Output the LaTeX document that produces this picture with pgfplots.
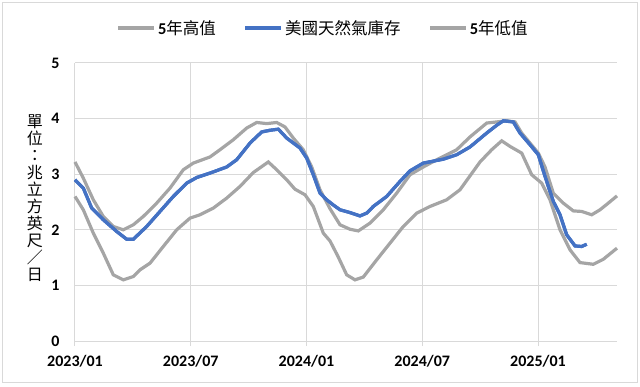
\documentclass[border=0pt]{standalone}
\usepackage{fontspec}
\setmainfont{Carlito}
\newfontfamily\cjk{Noto Sans CJK TC}
\usepackage{pgfplots}
\pgfplotsset{compat=1.18}
\definecolor{hi}{HTML}{A5A5A5}
\definecolor{bl}{HTML}{4472C4}
\definecolor{gr}{HTML}{D9D9D9}
\begin{document}
\begin{tikzpicture}
\begin{axis}[
 at={(0,0)}, anchor=south west,
 scale only axis, width=542pt, height=278pt,
 xmin=75, xmax=617, ymin=0, ymax=5,
 xtick={75,190.75,306.5,422.25,538},
 xticklabels={2023/01,2023/07,2024/01,2024/07,2025/01},
 ytick={0,1,2,3,4,5},
 yticklabels={0,1,2,3,4,5},
 grid=major, grid style={gr, line width=1pt},
 axis line style={draw=none},
 tick pos=left,
 major tick length=5pt,
 xtick style={gr, line width=1pt, yshift=-5pt},
 ytick style={draw=none},
 ticklabel style={font=\fontsize{16}{19}\selectfont\bfseries},
 yticklabel style={xshift=-12pt},
 xticklabel style={yshift=-11pt},
 clip=false,
 legend columns=3,
 legend style={draw=none, fill=none, at={(0.458,1.126)}, anchor=center,
   font=\fontsize{16.5}{19}\selectfont,
   /tikz/every even column/.append style={column sep=26pt}},
 legend image code/.code={\draw[#1] (0pt,0pt) -- (36pt,0pt);},
]
\addplot[hi, line width=3.2pt] coordinates {
(75,3.22) (83.3,2.93) (93.3,2.54) (103.3,2.24) (113.3,2.06) (123.3,2.00) (133.3,2.09)
(143.3,2.24) (156.7,2.48) (170,2.75) (183.3,3.08) (193.3,3.20) (210,3.31) (220,3.44)
(233.3,3.62) (246.7,3.83) (256.7,3.93) (266.7,3.91) (276.7,3.93) (285,3.85) (293.3,3.65)
(303.3,3.44) (311.7,3.13) (320,2.72) (330,2.38) (340,2.09) (350,2.01) (358.3,1.98)
(370,2.12) (383.3,2.36) (396.7,2.66) (410,2.99) (423.3,3.13) (436.7,3.26) (456.7,3.44)
(470,3.67) (486.7,3.92) (496.7,3.94) (506.7,3.96) (515,3.94) (521.7,3.74) (530,3.56)
(538.3,3.38) (545,3.13) (553.3,2.66) (563.3,2.48) (573.3,2.34) (581.7,2.33) (591.7,2.27)
(600,2.36) (608.3,2.48) (617,2.61)};
\addlegendentry{\textbf{5}\cjk 年高值}
\addplot[bl, line width=3.2pt] coordinates {
(75,2.90) (83.3,2.75) (91.7,2.39) (103.3,2.18) (116.7,1.97) (126.7,1.83) (133.3,1.83)
(146.7,2.06) (160,2.33) (173.3,2.60) (186.7,2.84) (196.7,2.94) (210,3.02) (226.7,3.13)
(236.7,3.26) (250,3.56) (261.7,3.76) (270,3.79) (278.3,3.81) (286.7,3.65) (300,3.47)
(306.7,3.29) (313.3,2.99) (320,2.66) (326.7,2.54) (333,2.45) (340,2.36) (350,2.31)
(360,2.25) (366.7,2.30) (373.3,2.42) (386.7,2.60) (400,2.87) (410,3.06) (423.3,3.20)
(443.3,3.27) (456.7,3.35) (470,3.49) (486.7,3.74) (496.7,3.88) (503.3,3.96) (513.3,3.94)
(520,3.74) (530,3.53) (538.3,3.35) (545,2.96) (553.3,2.51) (560,2.27) (566.7,1.91)
(575,1.71) (581.7,1.70) (586.7,1.74)};
\addlegendentry{\cjk 美國天然氣庫存}
\addplot[hi, line width=3.2pt] coordinates {
(75,2.60) (83.3,2.36) (93.3,1.94) (103.3,1.58) (113.3,1.19) (123.3,1.10) (133.3,1.16)
(140,1.28) (150,1.40) (163.3,1.70) (176.7,2.00) (190,2.21) (200,2.27) (213.3,2.39)
(226.7,2.57) (240,2.78) (253.3,3.03) (268.3,3.22) (276.7,3.08) (286.7,2.90) (295,2.73)
(305,2.63) (313.3,2.42) (323.3,1.94) (330,1.80) (338,1.52) (346.7,1.19) (355,1.10)
(363.3,1.15) (376.7,1.46) (390,1.76) (403.3,2.06) (416.7,2.30) (430,2.42) (446.7,2.54)
(460,2.72) (470,2.97) (480,3.22) (491.7,3.44) (501.7,3.60) (510,3.50) (521.7,3.38)
(531.7,2.99) (541.7,2.84) (550,2.54) (560,2.00) (570,1.64) (580,1.41) (593.3,1.38)
(603.3,1.47) (617,1.67)};
\addlegendentry{\textbf{5}\cjk 年低值}
\addplot[bl, line width=3.2pt, forget plot] coordinates {
(75,2.90) (83.3,2.75) (91.7,2.39) (103.3,2.18) (116.7,1.97) (126.7,1.83) (133.3,1.83)
(146.7,2.06) (160,2.33) (173.3,2.60) (186.7,2.84) (196.7,2.94) (210,3.02) (226.7,3.13)
(236.7,3.26) (250,3.56) (261.7,3.76) (270,3.79) (278.3,3.81) (286.7,3.65) (300,3.47)
(306.7,3.29) (313.3,2.99) (320,2.66) (326.7,2.54) (333,2.45) (340,2.36) (350,2.31)
(360,2.25) (366.7,2.30) (373.3,2.42) (386.7,2.60) (400,2.87) (410,3.06) (423.3,3.20)
(443.3,3.27) (456.7,3.35) (470,3.49) (486.7,3.74) (496.7,3.88) (503.3,3.96) (513.3,3.94)
(520,3.74) (530,3.53) (538.3,3.35) (545,2.96) (553.3,2.51) (560,2.27) (566.7,1.91)
(575,1.71) (581.7,1.70) (586.7,1.74)};
\node[font=\cjk\fontsize{16}{17}\selectfont, align=center, anchor=center,
  xshift=-40pt, yshift=143pt] at (rel axis cs:0,0) {單\\位\\：\\兆\\立\\方\\英\\尺\\／\\日};
\end{axis}
\draw[gr, line width=1pt] (-72.5pt,-41pt) rectangle (562pt,338.5pt);
\path (-75pt,-45pt) rectangle (565pt,341pt);
\end{tikzpicture}
\end{document}
